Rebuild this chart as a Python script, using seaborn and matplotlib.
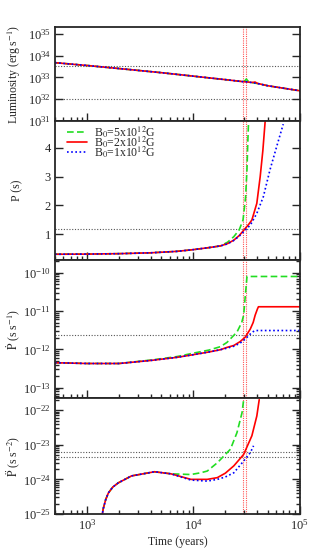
import numpy as np
import pandas as pd
import matplotlib
matplotlib.use("Agg")
import matplotlib.pyplot as plt
import matplotlib.ticker as mticker
import seaborn as sns

# values
# luminosity (log10 erg/s)
t_lum = [500, 1000, 2000, 5000, 10000, 20000, 29000, 30500, 31500, 32500, 36000, 38000, 40000, 50000, 100000]
lum_exp = [33.68, 33.55, 33.41, 33.22, 33.06, 32.90, 32.81, 32.80, 32.80, 32.79, 32.76, 32.74, 32.72, 32.62, 32.39]
lum_exp_green = [33.68, 33.55, 33.41, 33.22, 33.06, 32.90, 32.81, 32.85, 32.93, 32.84, 32.76, 32.74, 32.72, 32.62, 32.39]
lum_exp_red = [33.68, 33.55, 33.41, 33.22, 33.06, 32.90, 32.81, 32.80, 32.80, 32.79, 32.77, 32.79, 32.73, 32.62, 32.39]

# period P (s)
t_p_early = [500, 1000, 2000, 4000, 7000, 10000, 14000, 18000]
p_early = [0.30, 0.305, 0.32, 0.35, 0.40, 0.46, 0.53, 0.59]
t_p_green = [21000, 24000, 27000, 29300, 31000, 31900, 32500, 33100]
p_green = [0.72, 0.91, 1.15, 1.49, 2.30, 3.23, 4.20, 5.00]
t_p_red = [21000, 24000, 27000, 30800, 33000, 35500, 39500, 42500, 45000, 47500]
p_red = [0.67, 0.79, 0.95, 1.20, 1.33, 1.49, 2.07, 3.00, 3.90, 5.00]
t_p_blue = [21000, 24000, 27000, 30800, 34300, 39500, 45500, 52500, 60700, 70000]
p_blue = [0.66, 0.78, 0.93, 1.14, 1.31, 1.72, 2.30, 3.23, 4.04, 4.82]

# period derivative (log10 s/s)
t_pd_early = [500, 1000, 2000, 4000, 7000, 10000, 14000, 18000]
pd_exp_early = [-12.35, -12.37, -12.37, -12.29, -12.21, -12.14, -12.07, -12.01]
pd_exp_early_green = [-12.35, -12.37, -12.37, -12.28, -12.19, -12.10, -12.02, -11.93]
t_pd_green = [20700, 25700, 28500, 29700, 30800, 31500, 31900, 100000]
pd_exp_green = [-11.82, -11.55, -11.30, -11.11, -10.59, -10.30, -10.10, -10.10]
t_pd_red = [20700, 24000, 27500, 30800, 34300, 36500, 38100, 40000, 40900, 100000]
pd_exp_red = [-11.95, -11.90, -11.80, -11.68, -11.47, -11.30, -11.11, -10.95, -10.89, -10.89]
t_pd_blue = [20700, 24000, 27500, 30800, 34300, 36500, 38100, 100000]
pd_exp_blue = [-11.97, -11.92, -11.84, -11.73, -11.60, -11.54, -11.51, -11.51]

# second derivative (log10 s/s^2)
t_pdd_early = [1360, 1420, 1500, 1590, 1750, 1970, 2620, 4310, 6160]
pdd_exp_early = [-25.2, -24.85, -24.58, -24.39, -24.22, -24.10, -23.90, -23.78, -23.84]
t_pdd_green = [9480, 11700, 13500, 16800, 22300, 25700, 28700, 29700]
pdd_exp_green = [-23.86, -23.81, -23.76, -23.52, -23.13, -22.65, -22.07, -21.70]
t_pdd_red = [9480, 13500, 16800, 20000, 24000, 29700, 35500, 39500, 41600]
pdd_exp_red = [-24.00, -24.00, -23.95, -23.82, -23.61, -23.28, -22.74, -22.17, -21.70]
t_pdd_blue = [9480, 13500, 16800, 20000, 24000, 29700, 34300, 36800]
pdd_exp_blue = [-24.02, -24.05, -24.00, -23.93, -23.81, -23.47, -23.23, -23.03]

# reference lines
lum_hlines = [3.2e33, 1e32]
p_hline = 1.16
pd_hline = 2.3e-12
pdd_hlines = [6.0e-24, 4.3e-24]
age_lines = [2.9e4, 3.1e4]

labels = [r"B$_0$=5x10$^{12}$G", r"B$_0$=2x10$^{12}$G", r"B$_0$=1x10$^{12}$G"]
colors = ["#22dd22", "#ff0000", "#0000ff"]
styles = [(0, (4, 2)), "-", (0, (1, 1.5))]

sns.set_style("ticks")
plt.rcParams["font.family"] = ["Liberation Serif", "DejaVu Serif"]
plt.rcParams["mathtext.fontset"] = "stix"
plt.rcParams["axes.linewidth"] = 1.3

fig = plt.figure(figsize=(3.17, 5.54), dpi=100)
L, W = 0.1735, 0.772
ax1 = fig.add_axes([L, 0.7816, W, 0.1697])
ax2 = fig.add_axes([L, 0.5307, W, 0.2509], sharex=ax1)
ax3 = fig.add_axes([L, 0.2816, W, 0.2491], sharex=ax1)
ax4 = fig.add_axes([L, 0.0722, W, 0.2094], sharex=ax1)


def line(ax, x, y, i, label=None):
    sns.lineplot(x=x, y=y, ax=ax, color=colors[i], linestyle=styles[i],
                 lw=1.2, estimator=None, sort=False, label=label, legend=False)


def pw(e):
    return 10 ** np.array(e)


# luminosity
line(ax1, t_lum, pw(lum_exp_green), 0)
line(ax1, t_lum, pw(lum_exp_red), 1)
line(ax1, t_lum, pw(lum_exp), 2)

# P
line(ax2, t_p_early + t_p_green, p_early + p_green, 0, labels[0])
line(ax2, t_p_early + t_p_red, p_early + p_red, 1, labels[1])
line(ax2, t_p_early + t_p_blue, p_early + p_blue, 2, labels[2])

# Pdot
line(ax3, t_pd_early + t_pd_green, pw(pd_exp_early_green + pd_exp_green), 0)
line(ax3, t_pd_early + t_pd_red, pw(pd_exp_early + pd_exp_red), 1)
line(ax3, t_pd_early + t_pd_blue, pw(pd_exp_early + pd_exp_blue), 2)

# Pddot
line(ax4, t_pdd_early + t_pdd_green, pw(pdd_exp_early + pdd_exp_green), 0)
line(ax4, t_pdd_early + t_pdd_red, pw(pdd_exp_early + pdd_exp_red), 1)
line(ax4, t_pdd_early + t_pdd_blue, pw(pdd_exp_early + pdd_exp_blue), 2)

hl = dict(color="#555555", linestyle=(0, (1, 1.5)), lw=0.8, zorder=0)
for v in lum_hlines:
    ax1.axhline(v, **hl)
ax2.axhline(p_hline, **hl)
ax3.axhline(pd_hline, **hl)
for v in pdd_hlines:
    ax4.axhline(v, **hl)

for ax in (ax1, ax2, ax3, ax4):
    for v in age_lines:
        ax.axvline(v, color="#ff5555", linestyle=(0, (1, 1)), lw=0.8, zorder=0)
    ax.set_xscale("log")
    ax.set_xlim(500, 1e5)
    ax.tick_params(which="both", direction="in", left=True, right=True,
                   top=False, bottom=True, labelsize=9, width=1.0, pad=3)
    ax.tick_params(which="major", length=6)
    ax.tick_params(which="minor", length=3)
    ax.xaxis.set_minor_locator(mticker.LogLocator(base=10, subs=np.arange(2, 10)))
    ax.xaxis.set_minor_formatter(mticker.NullFormatter())
    ax.yaxis.set_label_coords(-0.13, 0.5)
    if ax is not ax4:
        ax.tick_params(labelbottom=False)

ax1.set_yscale("log")
ax1.set_ylim(1e31, 10 ** 35.32)
ax1.yaxis.set_major_locator(mticker.LogLocator(base=10, numticks=10))
ax1.yaxis.set_minor_locator(mticker.NullLocator())
ax1.set_ylabel(r"Luminosity (erg s$^{-1}$)", fontsize=8.5)

ax2.set_ylim(0.1, 4.93)
ax2.set_yticks([1, 2, 3, 4])
ax2.yaxis.set_minor_locator(mticker.NullLocator())
ax2.set_ylabel("P (s)", fontsize=8.5)
ax2.legend(loc="upper left", frameon=False, fontsize=8.5, handlelength=1.7,
           labelspacing=-0.5, borderpad=0.25, borderaxespad=0.0,
           handletextpad=0.6, bbox_to_anchor=(0.035, 1.0))

ax3.set_yscale("log")
ax3.set_ylim(10 ** -13.27, 10 ** -9.67)
ax3.yaxis.set_minor_locator(mticker.LogLocator(base=10, subs=np.arange(2, 10), numticks=20))
ax3.set_ylabel(r"$\dot{\rm P}$ (s s$^{-1}$)", fontsize=8.5)

ax4.set_yscale("log")
ax4.set_ylim(1e-25, 10 ** -21.65)
ax4.yaxis.set_minor_locator(mticker.LogLocator(base=10, subs=np.arange(2, 10), numticks=20))
ax4.set_ylabel(r"$\ddot{\rm P}$ (s s$^{-2}$)", fontsize=8.5)
ax4.set_xlabel("Time (years)", fontsize=8.5, labelpad=2)

for ax in (ax3, ax4):
    ax.yaxis.set_minor_formatter(mticker.NullFormatter())

fig.savefig("out.png", dpi=100)
